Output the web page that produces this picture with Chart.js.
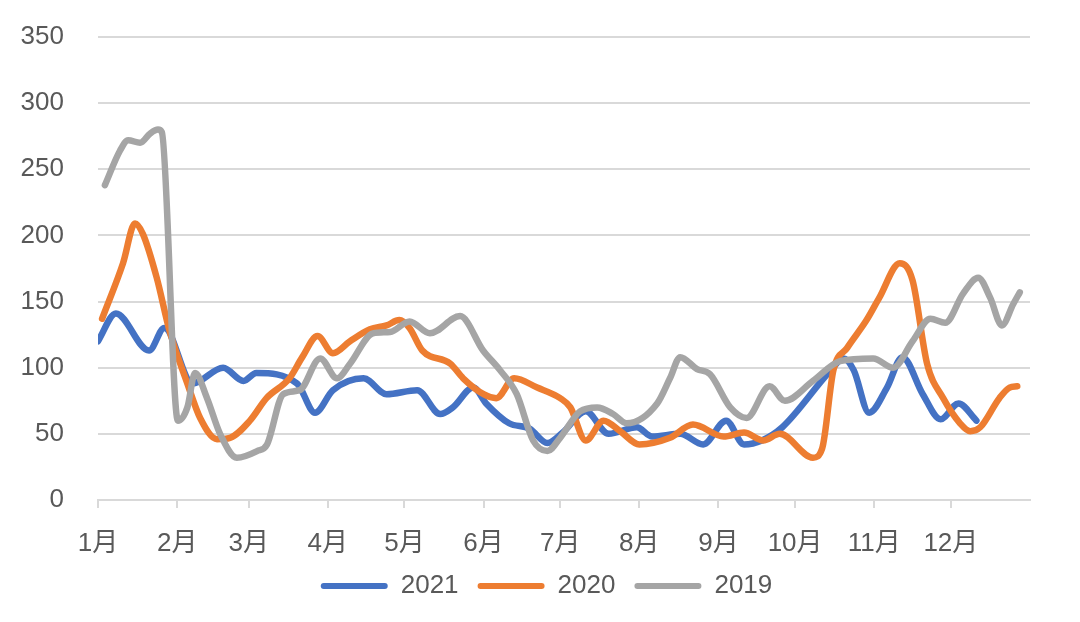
<!DOCTYPE html>
<html>
<head>
<meta charset="utf-8">
<script src="https://cdn.jsdelivr.net/npm/chart.js@4.4.0/dist/chart.umd.min.js"></script>
<style>
    html, body { margin: 0; padding: 0; background: #fff; }
    #wrap { width: 1080px; height: 622px; }
</style>
</head>
<body>
<div id="wrap"><canvas id="lineChart"></canvas></div>
<script>
// x positions are day of year
const monthStarts = [0, 31, 59, 90, 120, 151, 181, 212, 243, 273, 304, 334];
const monthLabels = ['1月', '2月', '3月', '4月', '5月', '6月', '7月', '8月', '9月', '10月', '11月', '12月'];
const yTicks = [0, 50, 100, 150, 200, 250, 300, 350];

const days2021 = [0, 7, 20, 26, 37, 49, 57, 62, 78, 85, 92, 104, 113, 125, 134, 139, 147, 152, 161, 169, 176, 182, 191, 200, 211, 217, 228, 237, 246, 253, 260, 268, 287, 292, 296, 302, 309, 315, 323, 330, 337, 344];
const vals2021 = [120, 141, 113, 130, 88, 100, 90, 96, 88, 66, 83, 92, 80, 83, 65, 70, 85, 73, 58, 54, 43, 51, 67, 50, 55, 48, 50, 42, 60, 42, 45, 55, 98, 107, 98, 66, 85, 108, 80, 61, 73, 60];

const days2020 = [1.6, 9.8, 14.5, 17.6, 23, 28, 35, 40, 46.6, 51.7, 59.5, 66, 75, 80, 86, 92, 98.7, 106.5, 113, 118, 122, 127, 138, 143, 151, 156, 163, 172, 181, 185, 191, 198, 204.5, 212, 224, 233, 245, 253, 260.5, 267, 280, 283.6, 288, 293.4, 301, 306, 314, 319, 324.7, 331, 337.6, 341.6, 345.5, 353, 357, 360];
const vals2020 = [137, 179, 209, 201, 168, 128, 88, 62, 46, 47, 60, 77, 92, 108, 124, 111, 120, 129, 132, 136, 130, 113, 103, 92, 80, 77, 92, 85, 77, 70, 45, 60, 52, 42, 47, 57, 48, 51, 45, 50, 32, 39, 98, 115, 136, 153, 179, 166, 103, 77, 58, 52, 55, 77, 85, 86];

const days2019 = [2.7, 8.6, 11.8, 16.5, 20.4, 23.5, 25, 31.3, 35, 38, 42.7, 47.8, 54.4, 62.3, 66.2, 72.5, 79, 87, 93.6, 98.7, 107.7, 114.4, 122, 130, 141.8, 150.8, 157.5, 164, 170.4, 176, 181, 188.8, 195.5, 201.7, 207, 219, 224, 228, 234.6, 239.7, 247.6, 254, 263, 269, 280, 290.6, 303.6, 311.4, 319, 326, 331.8, 338.8, 344.7, 349.4, 354, 358.4, 361];
const vals2019 = [238, 264, 272, 270, 277, 280, 278, 60, 70, 96, 77, 50, 32, 37, 42, 80, 83, 107, 92, 103, 126, 127, 135, 126, 139, 113, 98, 80, 45, 37, 47, 67, 70, 65, 58, 73, 92, 108, 99, 95, 70, 62, 86, 75, 90, 105, 107, 100, 120, 137, 134, 156, 168, 153, 132, 148, 157];

function points(days, vals) {
    return days.map((d, i) => ({ x: d, y: vals[i] }));
}

function series(label, days, vals, color, order) {
    return {
        label: label,
        data: points(days, vals),
        borderColor: color,
        backgroundColor: color,
        borderWidth: 6.5,
        pointRadius: 0,
        cubicInterpolationMode: 'monotone',
        borderCapStyle: 'round',
        borderJoinStyle: 'round',
        order: order
    };
}

const fontFamily = "'Liberation Sans', 'Noto Sans CJK SC', sans-serif";
const textColor = '#595959';
const gridColor = '#D9D9D9';

// legend sits a bit right of the canvas centre and a bit higher
const legendShift = {
    id: 'legendShift',
    afterLayout(chart) {
        const lg = chart.legend;
        lg.left += 21;
        lg.right += 21;
        lg.top -= 13;
        lg.bottom -= 13;
    }
};

const ctx = document.getElementById('lineChart').getContext('2d');
new Chart(ctx, {
    type: 'line',
    data: {
        datasets: [
            series('2021', days2021, vals2021, '#4472C4', 2),
            series('2020', days2020, vals2020, '#ED7D31', 1),
            series('2019', days2019, vals2019, '#A5A5A5', 0)
        ]
    },
    options: {
        responsive: true,
        maintainAspectRatio: false,
        animation: false,
        layout: {
            padding: { left: 21, right: 50, top: 37, bottom: 0 }
        },
        scales: {
            x: {
                type: 'linear',
                min: 0,
                max: 365,
                afterBuildTicks: function(scale) {
                    scale.ticks = monthStarts.map(v => ({ value: v }));
                },
                afterFit: function(scale) {
                    scale.height = 67;
                },
                ticks: {
                    autoSkip: false,
                    maxRotation: 0,
                    padding: 20,
                    color: textColor,
                    font: { family: fontFamily, size: 26 },
                    callback: function(value, index) {
                        return monthLabels[index];
                    }
                },
                grid: {
                    drawOnChartArea: false,
                    drawTicks: true,
                    tickLength: 8,
                    color: gridColor,
                    lineWidth: 2
                },
                border: { display: true, color: gridColor, width: 2 }
            },
            y: {
                min: 0,
                max: 350,
                afterBuildTicks: function(scale) {
                    scale.ticks = yTicks.map(v => ({ value: v }));
                },
                afterFit: function(scale) {
                    scale.width = 77;
                    scale.paddingTop = 0;
                    scale.paddingBottom = 0;
                },
                ticks: {
                    padding: 34,
                    color: textColor,
                    font: { family: fontFamily, size: 26 }
                },
                grid: {
                    drawTicks: false,
                    color: gridColor,
                    lineWidth: 2
                },
                border: { display: false }
            }
        },
        plugins: {
            legend: {
                position: 'bottom',
                labels: {
                    boxWidth: 67,
                    boxHeight: 6,
                    padding: 19,
                    useBorderRadius: true,
                    borderRadius: 3,
                    color: textColor,
                    font: { family: fontFamily, size: 26 },
                    sort: (a, b) => a.datasetIndex - b.datasetIndex,
                    generateLabels: function(chart) {
                        return Chart.defaults.plugins.legend.labels.generateLabels(chart).map(l => {
                            l.lineWidth = 0;
                            l.fillStyle = l.strokeStyle;
                            return l;
                        });
                    }
                }
            },
            tooltip: { enabled: false }
        }
    },
    plugins: [legendShift]
});
</script>
</body>
</html>
